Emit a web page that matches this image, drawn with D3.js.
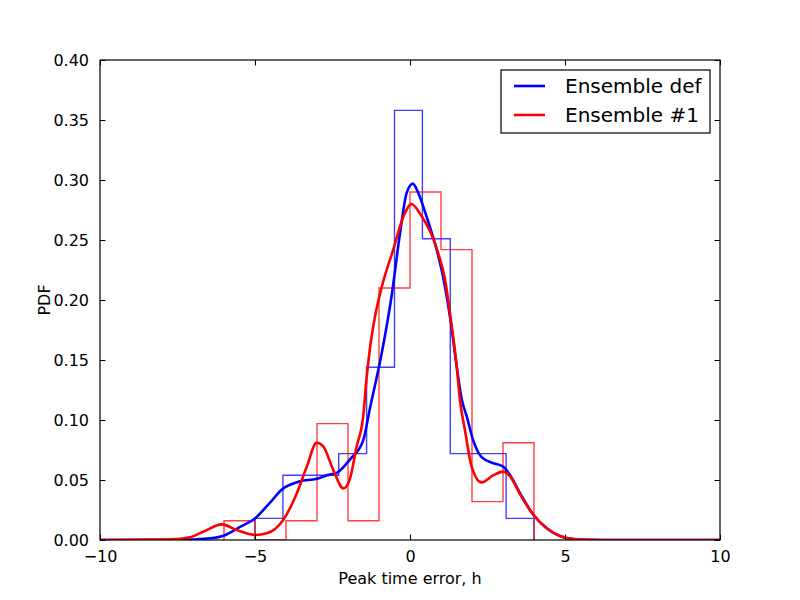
<!DOCTYPE html>
<html>
<head>
<meta charset="utf-8">
<script src="https://cdn.jsdelivr.net/npm/d3@7"></script>
<style>
  body { margin: 0; background: #fff; }
  svg { font-family: "DejaVu Sans", sans-serif; }
</style>
</head>
<body>
<svg id="chart" width="800" height="600"></svg>
<script>
// histogram bins (density)
var binsDef = [-5, -4.1, -3.2, -2.3, -1.4, -0.5, 0.4, 1.3, 2.2, 3.1, 4.0];
var histDef = [0.018, 0.054, 0.054, 0.072, 0.144, 0.358, 0.251, 0.072, 0.072, 0.018];
var binsOne = [-6, -5, -4, -3, -2, -1, 0, 1, 2, 3, 4];
var histOne = [0.016, 0, 0.016, 0.097, 0.016, 0.21, 0.29, 0.242, 0.032, 0.081];

// kde curves
var kdeDefX = [-10, -7.5, -6.45, -5.97, -5.48, -5.0, -4.52, -4.09, -3.87, -3.55, -3.01, -2.68, -2.36, -1.94, -1.51, -1.29, -0.91, -0.59, -0.32, -0.11, 0.09, 0.27, 0.54, 0.86, 1.07, 1.29, 1.51, 1.67, 1.83, 2.04, 2.31, 2.69, 3.01, 3.23, 3.55, 3.98, 4.41, 4.84, 5.27, 6.13, 10];
var kdeDefY = [0, 0, 0.0014, 0.004, 0.011, 0.018, 0.031, 0.043, 0.046, 0.049, 0.051, 0.054, 0.056, 0.067, 0.083, 0.11, 0.156, 0.204, 0.256, 0.289, 0.297, 0.289, 0.269, 0.242, 0.219, 0.186, 0.144, 0.117, 0.103, 0.083, 0.069, 0.064, 0.061, 0.054, 0.039, 0.021, 0.0098, 0.0033, 0.0008, 0, 0];
var kdeOneX = [-10, -7.7, -7.1, -6.67, -6.07, -5.59, -5.0, -4.62, -4.09, -3.65, -3.33, -3.01, -2.80, -2.47, -2.15, -1.94, -1.72, -1.51, -1.40, -1.29, -1.13, -0.91, -0.54, -0.22, 0.05, 0.32, 0.91, 1.13, 1.29, 1.51, 1.61, 1.77, 1.99, 2.31, 2.69, 3.01, 3.23, 3.55, 3.98, 4.41, 4.84, 5.27, 6.13, 10];
var kdeOneY = [0, 0.0005, 0.0023, 0.0069, 0.013, 0.0083, 0.0042, 0.0056, 0.0167, 0.039, 0.061, 0.081, 0.078, 0.058, 0.043, 0.051, 0.078, 0.103, 0.135, 0.160, 0.186, 0.211, 0.242, 0.269, 0.280, 0.272, 0.239, 0.217, 0.189, 0.144, 0.117, 0.092, 0.061, 0.048, 0.054, 0.057, 0.053, 0.038, 0.021, 0.0098, 0.0033, 0.0008, 0, 0];

var xTicks = [-10, -5, 0, 5, 10];
var yTicks = [0, 0.05, 0.1, 0.15, 0.2, 0.25, 0.3, 0.35, 0.4];

var margin = {left: 100, top: 60, right: 80, bottom: 60};
var W = 800 - margin.left - margin.right, H = 600 - margin.top - margin.bottom;

var svg = d3.select("#chart");
var g = svg.append("g").attr("transform", "translate(" + margin.left + "," + margin.top + ")");

var x = d3.scaleLinear().domain([-10, 10]).range([0, W]);
var y = d3.scaleLinear().domain([0, 0.4]).range([H, 0]);

g.append("clipPath").attr("id", "clip").append("rect").attr("width", W).attr("height", H);
var plot = g.append("g").attr("clip-path", "url(#clip)");

// step outline of a histogram
function stepPath(edges, vals) {
    var pts = [[edges[0], 0]];
    vals.forEach(function(v, i) {
        pts.push([edges[i], v]);
        pts.push([edges[i + 1], v]);
    });
    pts.push([edges[edges.length - 1], 0]);
    return d3.line().x(function(d) { return x(d[0]); }).y(function(d) { return y(d[1]); })(pts);
}

plot.append("path").attr("d", stepPath(binsDef, histDef))
    .attr("fill", "none").attr("stroke", "blue").attr("stroke-opacity", 0.75).attr("stroke-width", 1.4);
plot.append("path").attr("d", stepPath(binsOne, histOne))
    .attr("fill", "none").attr("stroke", "red").attr("stroke-opacity", 0.75).attr("stroke-width", 1.4);

var line = d3.line().x(function(d) { return x(d[0]); }).y(function(d) { return y(d[1]); }).curve(d3.curveMonotoneX);
plot.append("path").attr("d", line(d3.zip(kdeDefX, kdeDefY)))
    .attr("fill", "none").attr("stroke", "blue").attr("stroke-width", 2.6);
plot.append("path").attr("d", line(d3.zip(kdeOneX, kdeOneY)))
    .attr("fill", "none").attr("stroke", "red").attr("stroke-width", 2.6);

// axes, classic style: ticks inward on all four sides
var fmtX = function(d) { return d < 0 ? "\u2212" + Math.abs(d) : d; };
var ax = [
    d3.axisBottom(x).tickValues(xTicks).tickFormat(fmtX),
    d3.axisLeft(y).tickValues(yTicks).tickFormat(d3.format(".2f")),
    d3.axisTop(x).tickValues(xTicks).tickFormat(""),
    d3.axisRight(y).tickValues(yTicks).tickFormat("")
];
var trans = ["translate(0," + H + ")", null, null, "translate(" + W + ",0)"];
ax.forEach(function(a, i) {
    var gg = g.append("g").attr("transform", trans[i])
        .call(a.tickSizeInner(-5.5).tickSizeOuter(0).tickPadding(i < 2 ? 11 : 3));
    gg.select(".domain").remove();
    gg.selectAll("text").attr("font-size", 16).attr("fill", "#000").attr("font-family", "DejaVu Sans");
    gg.selectAll("line").attr("stroke", "#000");
});

g.append("rect").attr("width", W).attr("height", H)
    .attr("fill", "none").attr("stroke", "#000").attr("stroke-width", 1.2);

g.append("text").attr("x", W / 2).attr("y", H + 44).attr("text-anchor", "middle")
    .attr("font-size", 16).text("Peak time error, h");
g.append("text").attr("transform", "translate(-50," + H / 2 + ") rotate(-90)")
    .attr("text-anchor", "middle").attr("font-size", 16).text("PDF");

// legend
var leg = g.append("g").attr("transform", "translate(" + (W - 219) + ",10)");
leg.append("rect").attr("width", 209).attr("height", 63)
    .attr("fill", "#fff").attr("stroke", "#000").attr("stroke-width", 1.2);
var legItems = [{name: "Ensemble def", color: "blue"}, {name: "Ensemble #1", color: "red"}];
legItems.forEach(function(d, i) {
    var yy = 16 + i * 29;
    leg.append("line").attr("x1", 13).attr("x2", 44).attr("y1", yy).attr("y2", yy)
        .attr("stroke", d.color).attr("stroke-width", 2.6);
    leg.append("text").attr("x", 64).attr("y", yy + 7).attr("font-size", 20).text(d.name);
});
</script>
</body>
</html>
